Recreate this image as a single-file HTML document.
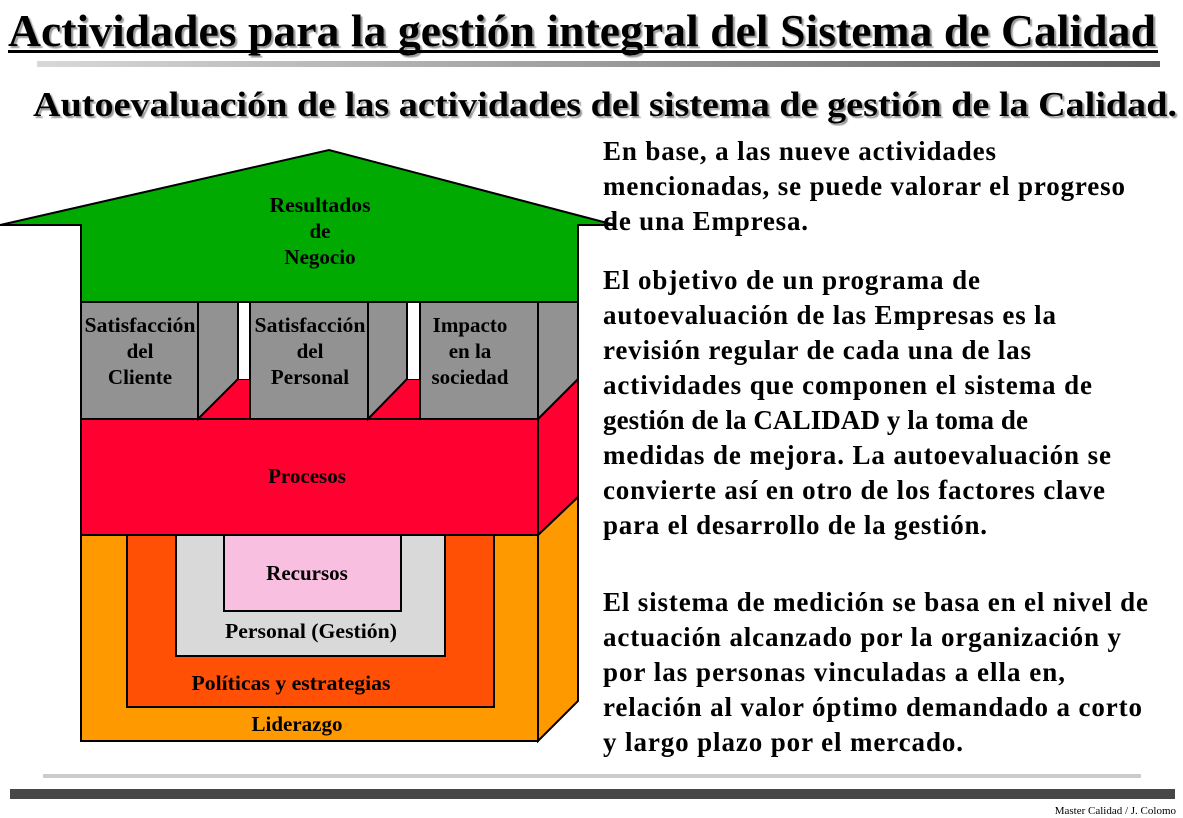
<!DOCTYPE html>
<html><head><meta charset="utf-8"><style>
html,body{margin:0;padding:0;background:#fff;}
svg{display:block;}
text{font-family:"Liberation Serif",serif;font-weight:bold;fill:#000;}
</style></head><body>
<svg width="1183" height="818" viewBox="0 0 1183 818" xmlns="http://www.w3.org/2000/svg">
<defs>
<linearGradient id="g1" x1="0" x2="1" y1="0" y2="0"><stop offset="0" stop-color="#d8d8d8"/><stop offset="1" stop-color="#606060"/></linearGradient>
<filter id="sh" x="-5%" y="-20%" width="110%" height="140%"><feDropShadow dx="2" dy="2" stdDeviation="0.6" flood-color="#999"/></filter>
</defs>
<text x="8" y="46" font-size="46" textLength="1148" lengthAdjust="spacingAndGlyphs" filter="url(#sh)">Actividades para la gestión integral del Sistema de Calidad</text>
<rect x="8" y="50" width="1150" height="3" fill="#000"/>
<rect x="37" y="61" width="1123" height="6" fill="url(#g1)"/>
<text x="33" y="116" font-size="35" textLength="1144" lengthAdjust="spacingAndGlyphs" filter="url(#sh)">Autoevaluación de las actividades del sistema de gestión de la Calidad.</text>

<g stroke="#000" stroke-width="2">
<rect x="81" y="535" width="457" height="206" fill="#ff9900"/>
<polygon points="538,535 578,497 578,701 538,741" fill="#ff9900"/>
<rect x="127" y="535" width="367" height="172" fill="#ff5005"/>
<rect x="176" y="535" width="269" height="121" fill="#d9d9d9"/>
<rect x="224" y="535" width="177" height="76" fill="#f9bfe0"/>
<rect x="198" y="379" width="380" height="40" fill="#ff0030"/>
<polygon points="538,419 578,379 578,497 538,535" fill="#ff0030"/>
<rect x="81" y="419" width="457" height="116" fill="#ff0030"/>
<rect x="238" y="302" width="12" height="77" fill="#fff" stroke="none"/>
<rect x="407" y="302" width="13" height="77" fill="#fff" stroke="none"/>
<line x1="238" y1="302" x2="238" y2="379"/><line x1="407" y1="302" x2="407" y2="379"/>
<polygon points="198,302 238,302 238,379 198,419" fill="#929292"/>
<rect x="81" y="302" width="117" height="117" fill="#929292"/>
<polygon points="368,302 407,302 407,379 368,419" fill="#929292"/>
<rect x="250" y="302" width="118" height="117" fill="#929292"/>
<polygon points="538,302 578,302 578,379 538,419" fill="#929292"/>
<rect x="420" y="302" width="118" height="117" fill="#929292"/>
<polygon points="0,225 329,150 615,225 578,225 578,302 81,302 81,225" fill="#00aa00"/>
</g>
<g font-size="21" text-anchor="middle">
<text x="320" y="212" textLength="101" lengthAdjust="spacingAndGlyphs">Resultados</text>
<text x="320" y="238">de</text>
<text x="320" y="264">Negocio</text>
<text x="140" y="332" textLength="111" lengthAdjust="spacingAndGlyphs">Satisfacción</text><text x="140" y="358">del</text><text x="140" y="384">Cliente</text>
<text x="310" y="332" textLength="111" lengthAdjust="spacingAndGlyphs">Satisfacción</text><text x="310" y="358">del</text><text x="310" y="384">Personal</text>
<text x="470" y="332">Impacto</text><text x="470" y="358">en la</text><text x="470" y="384">sociedad</text>
<text x="307" y="483">Procesos</text>
<text x="307" y="580">Recursos</text>
<text x="311" y="638" textLength="172" lengthAdjust="spacingAndGlyphs">Personal (Gestión)</text>
<text x="291" y="690" textLength="199" lengthAdjust="spacingAndGlyphs">Políticas y estrategias</text>
<text x="297" y="731">Liderazgo</text>
</g>
<g font-size="27" lengthAdjust="spacingAndGlyphs">
<text x="603" y="160" textLength="393">En base, a las nueve actividades</text>
<text x="603" y="195" textLength="522">mencionadas, se puede valorar el progreso</text>
<text x="603" y="230" textLength="205">de una Empresa.</text>
<text x="603" y="289" textLength="377">El objetivo de un programa de</text>
<text x="603" y="324" textLength="453">autoevaluación de las Empresas es la</text>
<text x="603" y="359" textLength="428">revisión regular de cada una de las</text>
<text x="603" y="394" textLength="489">actividades que componen el sistema de</text>
<text x="603" y="429" textLength="425">gestión de la CALIDAD y la toma de</text>
<text x="603" y="464" textLength="508">medidas de mejora. La autoevaluación se</text>
<text x="603" y="499" textLength="502">convierte así en otro de los factores clave</text>
<text x="603" y="534" textLength="384">para el desarrollo de la gestión.</text>
<text x="603" y="611" textLength="545">El sistema de medición se basa en el nivel de</text>
<text x="603" y="646" textLength="518">actuación alcanzado por la organización y</text>
<text x="603" y="681" textLength="462">por las personas vinculadas a ella en,</text>
<text x="603" y="716" textLength="539">relación al valor óptimo demandado a corto</text>
<text x="603" y="751" textLength="360">y largo plazo por el mercado.</text>
</g>
<rect x="43" y="774" width="1098" height="4" fill="#cccccc"/>
<rect x="10" y="789" width="1165" height="10" fill="#474747"/>
<text x="1176" y="814" font-size="11" text-anchor="end" style="font-weight:normal">Master Calidad / J. Colomo</text>
</svg>
</body></html>
